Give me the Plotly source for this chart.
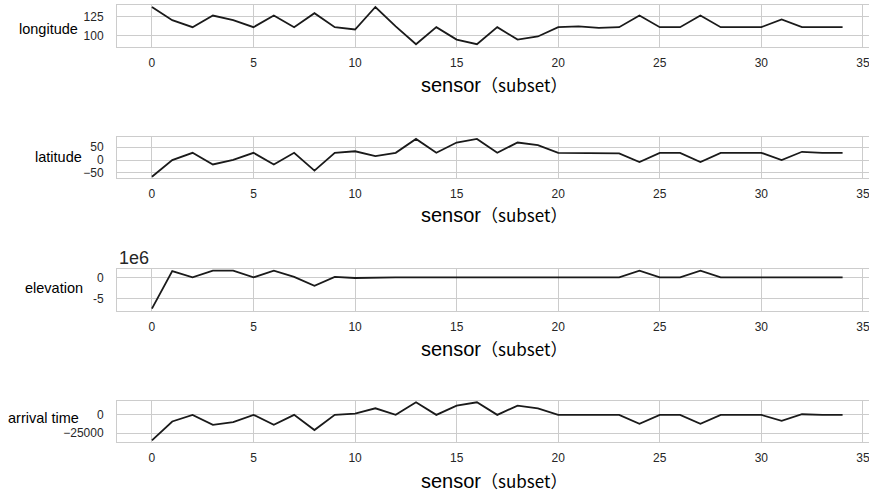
import plotly.graph_objects as go

sensor = list(range(35))

longitude = [137, 120, 111, 126, 120, 111, 126, 111, 129, 111, 108, 137, 112, 89, 111,
             95, 89, 111, 95, 99, 111, 112, 110, 111, 126, 111, 111, 126, 111, 111,
             111, 121, 111, 111, 111]

latitude = [-65, 0, 28, -17, 1, 28, -17, 28, -41, 28, 34, 15, 28, 82, 28,
            68, 82, 28, 68, 58, 28, 28, 28, 26, -8, 28, 28, -8, 28, 28,
            28, 0, 32, 28, 28]

elevation = [-7400000, 1500000, 0, 1600000, 1600000, 0, 1600000, 100000, -2000000, 100000,
             -150000, 0, 10000, 10000, 10000, 10000, 10000, 10000, 10000, 10000,
             -50000, 0, 50000, 0, 1600000, 0, 0, 1600000, 0, 0,
             0, 0, 0, 0, 0]

arrival_time = [-35000, -9100, 0, -13600, -10000, 0, -13600, 0, -20900, 0, 1800, 9100, 0, 17300, 0,
                12700, 17300, 0, 12700, 9100, 0, 0, 450, 0, -12300, 0, 0, -12300, 0, 0,
                0, -8200, 900, 0, 0]

series = [
    ("longitude", longitude, [85.4, 139.6], [100, 125], ["100", "125"]),
    ("latitude", latitude, [-69.7, 89.4], [-50, 0, 50], ["\u221250", "0", "50"]),
    ("elevation", elevation, [-7950000, 1980000], [-5000000, 0], ["-5", "0"]),
    ("arrival time", arrival_time, [-37300, 19100], [-25000, 0], ["\u221225000", "0"]),
]

x_ticks = [0, 5, 10, 15, 20, 25, 30, 35]

W, H = 869, 492
panel_px = [(5, 47), (137, 178), (269, 311), (401, 442)]
ylabel_px = [(80, 29), (84, 157), (85, 288), (81, 418)]
xtitle_px = [85, 214, 348, 480]

fig = go.Figure()
GRID = "#cccccc"
TXT = "#262626"

for i, (name, vals, yr, tv, tt) in enumerate(series):
    n = "" if i == 0 else str(i + 1)
    fig.add_trace(go.Scatter(x=sensor, y=vals, mode="lines",
                             line=dict(color="#1a1a1a", width=1.8),
                             xaxis="x" + n, yaxis="y" + n, showlegend=False,
                             hoverinfo="skip"))
    top, bot = panel_px[i]
    dom = [1 - bot / H, 1 - top / H]
    fig.layout["xaxis" + n] = dict(
        domain=[117 / W, 1], range=[-1.72, 35.3], anchor="y" + n,
        tickvals=x_ticks, showgrid=True, gridcolor=GRID, gridwidth=1,
        showline=True, mirror=True, linecolor=GRID, linewidth=1,
        zeroline=False, ticks="", ticklabelstandoff=5, automargin=False,
        ticklabeloverflow="allow",
        tickfont=dict(family="Liberation Sans, Arial", size=12, color=TXT))
    fig.layout["yaxis" + n] = dict(
        domain=dom, range=yr, anchor="x" + n,
        tickvals=tv, ticktext=tt, showgrid=True, gridcolor=GRID, gridwidth=1,
        showline=True, mirror=True, linecolor=GRID, linewidth=1,
        zeroline=False, ticks="", ticklabelstandoff=10, automargin=False,
        tickfont=dict(family="Liberation Sans, Arial", size=12, color=TXT))
    # horizontal y label
    lx, ly = ylabel_px[i]
    fig.add_annotation(text=name, xref="paper", yref="paper",
                       x=lx / W, y=1 - ly / H,
                       xanchor="right", yanchor="middle", showarrow=False,
                       font=dict(family="Liberation Sans, Arial", size=14.5, color="#000000"))
    # x axis title
    fig.add_annotation(
        text="sensor<span style='font-family:Noto Sans CJK SC;font-size:17px'>\uff08subset\uff09</span>",
        xref="paper", yref="paper", x=494 / W, y=1 - xtitle_px[i] / H,
        xanchor="center", yanchor="middle", showarrow=False,
        font=dict(family="Liberation Sans, Arial", size=20, color="#000000"))

fig.add_annotation(text="1e6", xref="paper", yref="paper", x=117 / W, y=1 - 258 / H,
                   xanchor="left", yanchor="middle", showarrow=False,
                   font=dict(family="Liberation Sans, Arial", size=18, color=TXT))

fig.update_layout(width=W, height=H, margin=dict(l=0, r=0, t=0, b=0),
                  plot_bgcolor="white", paper_bgcolor="white")

fig.write_html("out.html", config={"displayModeBar": False, "staticPlot": True},
               post_script=("document.documentElement.style.overflow='hidden';"
                            "document.body.style.overflow='hidden';"
                            "document.body.style.margin='0';"))
